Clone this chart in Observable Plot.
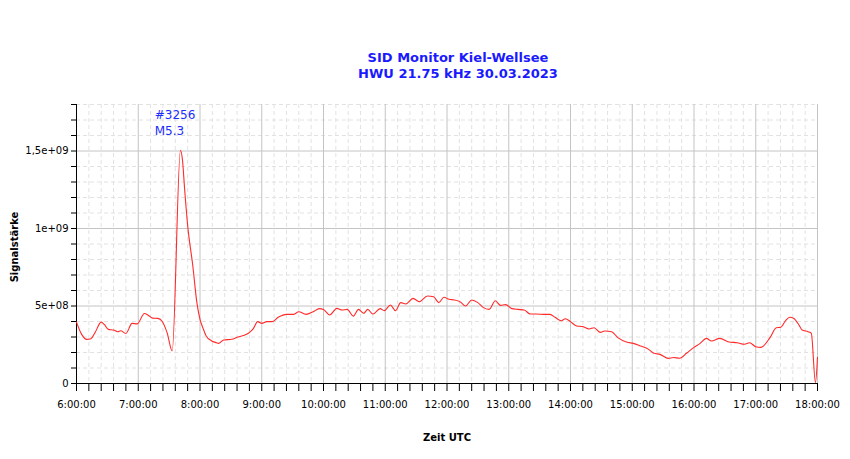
<!DOCTYPE html>
<html>
<head>
<meta charset="utf-8">
<script src="https://cdn.jsdelivr.net/npm/d3@7"></script>
<script src="https://cdn.jsdelivr.net/npm/@observablehq/plot@0.6"></script>
<style>
  body { margin: 0; background: #fff; font-family: "DejaVu Sans", sans-serif; }
  #title { box-sizing: border-box; width: 850px; height: 90px; padding-top: 50px; padding-left: 66px;
           text-align: center; color: #1a1aff; font-weight: bold; font-size: 13px; line-height: 16px; }
  svg { display: block; }
</style>
</head>
<body>
<div id="title"><div>SID Monitor Kiel-Wellsee</div><div>HWU 21.75 kHz 30.03.2023</div></div>
<div id="chart"></div>
<script>
// Time of day (UTC) of each sample
const times = ["6:00","6:05","6:10","6:14","6:18","6:24","6:27","6:31","6:36","6:40","6:43","6:48","6:54","6:59",
  "7:06","7:10","7:14","7:19","7:23","7:28","7:33","7:41","7:43","7:45","7:48","7:53","7:57",
  "8:00","8:03","8:06","8:11","8:16","8:18","8:23","8:31","8:36","8:42","8:47","8:52","8:56",
  "9:00","9:05","9:10","9:16","9:24","9:31","9:36","9:43","9:50","9:56",
  "10:00","10:06","10:13","10:18","10:23","10:29","10:34","10:39","10:43","10:48","10:55","10:59",
  "11:05","11:10","11:15","11:20","11:27","11:33","11:41","11:47","11:52","11:57",
  "12:02","12:07","12:13","12:18","12:24","12:30","12:35","12:41","12:47","12:52","12:57",
  "13:03","13:09","13:15","13:21","13:27","13:34","13:40","13:45","13:51","13:55",
  "14:00","14:06","14:12","14:18","14:23","14:29","14:33","14:40","14:46","14:55",
  "15:01","15:08","15:16","15:21","15:27","15:35","15:40","15:46","15:53",
  "16:00","16:06","16:12","16:17","16:25","16:34","16:42","16:49","16:54",
  "17:00","17:05","17:14","17:20","17:24","17:29","17:33","17:37","17:42","17:45","17:51","17:54","17:58","18:00"];
// Signal strength of each sample
const signal = [3.96e8,3.17e8,2.85e8,2.89e8,3.28e8,3.96e8,3.81e8,3.49e8,3.45e8,3.34e8,3.40e8,3.23e8,3.88e8,3.85e8,
  4.52e8,4.39e8,4.22e8,4.20e8,4.03e8,3.28e8,2.10e8,15.05e8,14.4e8,12.6e8,10.2e8,7.6e8,5.2e8,
  4.14e8,3.56e8,3.06e8,2.76e8,2.63e8,2.59e8,2.81e8,2.85e8,2.98e8,3.09e8,3.24e8,3.56e8,3.99e8,
  3.88e8,3.99e8,3.99e8,4.27e8,4.46e8,4.46e8,4.63e8,4.46e8,4.63e8,4.83e8,
  4.78e8,4.42e8,4.85e8,4.74e8,4.78e8,4.35e8,4.78e8,4.53e8,4.78e8,4.48e8,4.83e8,4.70e8,
  5.06e8,4.70e8,5.22e8,5.13e8,5.49e8,5.28e8,5.65e8,5.60e8,5.22e8,5.56e8,
  5.43e8,5.39e8,5.26e8,5.00e8,5.39e8,5.22e8,4.91e8,4.78e8,5.34e8,5.04e8,5.09e8,
  4.83e8,4.78e8,4.74e8,4.48e8,4.48e8,4.46e8,4.46e8,4.27e8,4.05e8,4.18e8,
  3.99e8,3.71e8,3.67e8,3.52e8,3.60e8,3.30e8,3.39e8,3.34e8,2.96e8,2.66e8,
  2.59e8,2.42e8,2.20e8,1.95e8,1.88e8,1.62e8,1.68e8,1.63e8,1.97e8,
  2.33e8,2.59e8,2.91e8,2.74e8,2.91e8,2.68e8,2.63e8,2.53e8,2.63e8,
  2.37e8,2.33e8,2.98e8,3.60e8,3.62e8,4.05e8,4.27e8,4.20e8,3.77e8,3.45e8,3.34e8,3.24e8,0.05e8,1.69e8];

const xMajor = [6,7,8,9,10,11,12,13,14,15,16,17,18];
const xLabels = ["6:00:00","7:00:00","8:00:00","9:00:00","10:00:00","11:00:00","12:00:00","13:00:00","14:00:00","15:00:00","16:00:00","17:00:00","18:00:00"];
const yMajor = [0, 5e8, 1e9, 1.5e9];
const yLabels = ["0", "5e+08", "1e+09", "1,5e+09"];
const xMinorStep = 0.2;   // 12 minutes
const yMinorStep = 1e8;

const annotTime = "7:16";
const annotLines = ["#3256", "M5.3"];
const annotValues = [17.3e8, 16.3e8];

const toHours = s => { const [h, m] = s.split(":").map(Number); return h + m / 60; };
const data = times.map((t, i) => ({x: toHours(t), y: signal[i]}));
const xMinor = d3.range(6, 18.0001, xMinorStep).map(v => +v.toFixed(2)).filter(v => !xMajor.includes(v));
const yMinor = d3.range(0, 1.80001e9, yMinorStep).filter(v => !yMajor.includes(v));
const annot = annotLines.map((t, i) => ({x: toHours(annotTime), y: annotValues[i], t}));

const font = "DejaVu Sans, sans-serif";
const chart = Plot.plot({
  width: 850, height: 369,
  marginTop: 14, marginBottom: 76, marginLeft: 76, marginRight: 33,
  style: {fontFamily: font, fontSize: "10px", background: "#fff", color: "#000"},
  x: {domain: [6, 18], axis: null},
  y: {domain: [0, 1.8e9], axis: null},
  marks: [
    Plot.ruleX(xMinor, {stroke: "#e2e2e2", strokeDasharray: "4,3"}),
    Plot.ruleY(yMinor, {stroke: "#e2e2e2", strokeDasharray: "4,3"}),
    Plot.ruleX(xMajor.slice(1), {stroke: "#c4c4c4"}),
    Plot.ruleY(yMajor.slice(1), {stroke: "#c4c4c4"}),
    Plot.axisX(xMinor, {tickSize: 8, tickFormat: () => "", label: null, stroke: "#000"}),
    Plot.axisX(xMajor, {tickSize: 8, tickPadding: 9, tickFormat: v => xLabels[xMajor.indexOf(v)], label: null, fontFamily: font, fontSize: 10}),
    Plot.axisY(yMinor, {tickSize: 5, tickFormat: () => "", label: null}),
    Plot.axisY(yMajor, {tickSize: 5, tickPadding: 3, tickFormat: v => yLabels[yMajor.indexOf(v)], label: null, fontFamily: font, fontSize: 10}),
    Plot.ruleY([0], {stroke: "#000"}),
    Plot.ruleX([6], {stroke: "#000"}),
    Plot.line(data, {x: "x", y: "y", stroke: "#ff2a2a", strokeWidth: 1.1, curve: "monotone-x"}),
    Plot.text(annot, {x: "x", y: "y", text: "t", textAnchor: "start", fill: "#1a2cff", fontSize: 12, fontFamily: font}),
    Plot.text(["Zeit UTC"], {frameAnchor: "bottom", dy: 57, text: d => d, fontWeight: "bold", fontSize: 10, fontFamily: font}),
    Plot.text(["Signalstärke"], {frameAnchor: "left", textAnchor: "middle", dx: -62, dy: 3, rotate: -90, text: d => d, fontWeight: "bold", fontSize: 10, fontFamily: font})
  ]
});
document.getElementById("chart").append(chart);
</script>
</body>
</html>
